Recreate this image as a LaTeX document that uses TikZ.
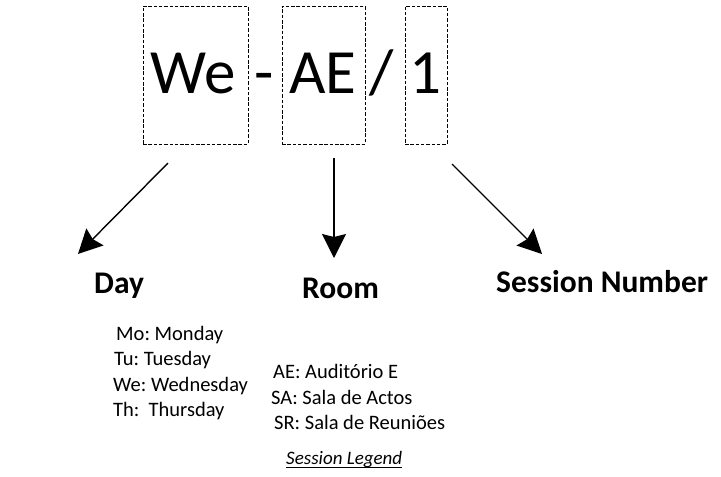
\documentclass[tikz,border=0pt]{standalone}
\usepackage{fontspec}
\setmainfont{Carlito}
\usetikzlibrary{arrows.meta}
\frenchspacing
\begin{document}
\begin{tikzpicture}[x=1pt,y=-1pt,
  dbox/.style={draw=black, line width=0.9pt, dash pattern=on 3.5pt off 1.8pt, inner sep=0pt},
  big/.style={inner sep=0pt, anchor=base west, font=\fontsize{63}{70}\selectfont},
  lbl/.style={inner sep=0pt, anchor=base west, font=\fontsize{31.5}{36}\selectfont\bfseries},
  item/.style={inner sep=0pt, anchor=base west, font=\fontsize{20.5}{24}\selectfont},
  arr/.style={line width=1.4pt, -{Stealth[length=24pt, width=24pt, inset=3pt]}}]
\useasboundingbox (0,0) rectangle (721,477);
% dashed boxes
\node[dbox, minimum width=105pt, minimum height=138pt] (bWe) at (195.5,75) {};
\node[dbox, minimum width=83pt, minimum height=138pt] (bAE) at (323.5,75) {};
\node[dbox, minimum width=42pt, minimum height=138pt] (bOne) at (426,75) {};
% big code text
\node[big] (tWe) at (150,93) {We};
\node[big] (tDash) at (254,93) {-};
\node[big] (tAE) at (289,93) {AE};
\node[big] (tSlash) at (369,93) {/};
\node[big] (tOne) at (409,93) {1};
% arrow starts and ends
\coordinate (sDay) at (168,163);
\coordinate (sRoom) at (334,158);
\coordinate (sNum) at (452,164);
\coordinate (eDay) at (78,254);
\coordinate (eRoom) at (334,258);
\coordinate (eNum) at (542,254);
\draw[arr] (sDay) -- (eDay);
\draw[arr] (sRoom) -- (eRoom);
\draw[arr] (sNum) -- (eNum);
% labels
\node[lbl] (lDay) at (94,293) {Day};
\node[lbl] (lRoom) at (302,298) {Room};
\node[lbl] (lNum) at (496,292) {Session Number};
% day list
\node[item] (d1) at (116,340) {Mo: Monday};
\node[item] (d2) at (114,365) {Tu: Tuesday};
\node[item] (d3) at (113,391) {We: Wednesday};
\node[item] (d4) at (113,416) {Th:\ \ Thursday};
% room list
\node[item] (r1) at (273,378) {AE: Auditório E};
\node[item] (r2) at (271,404) {SA: Sala de Actos};
\node[item] (r3) at (274,429) {SR: Sala de Reuniões};
% legend
\node[item, font=\fontsize{19}{23}\selectfont\itshape] (leg) at (286,464) {Session Legend};
\draw[line width=0.8pt] ([yshift=-3.5pt]leg.base west) -- ([yshift=-3.5pt]leg.base east);
\end{tikzpicture}
\end{document}
